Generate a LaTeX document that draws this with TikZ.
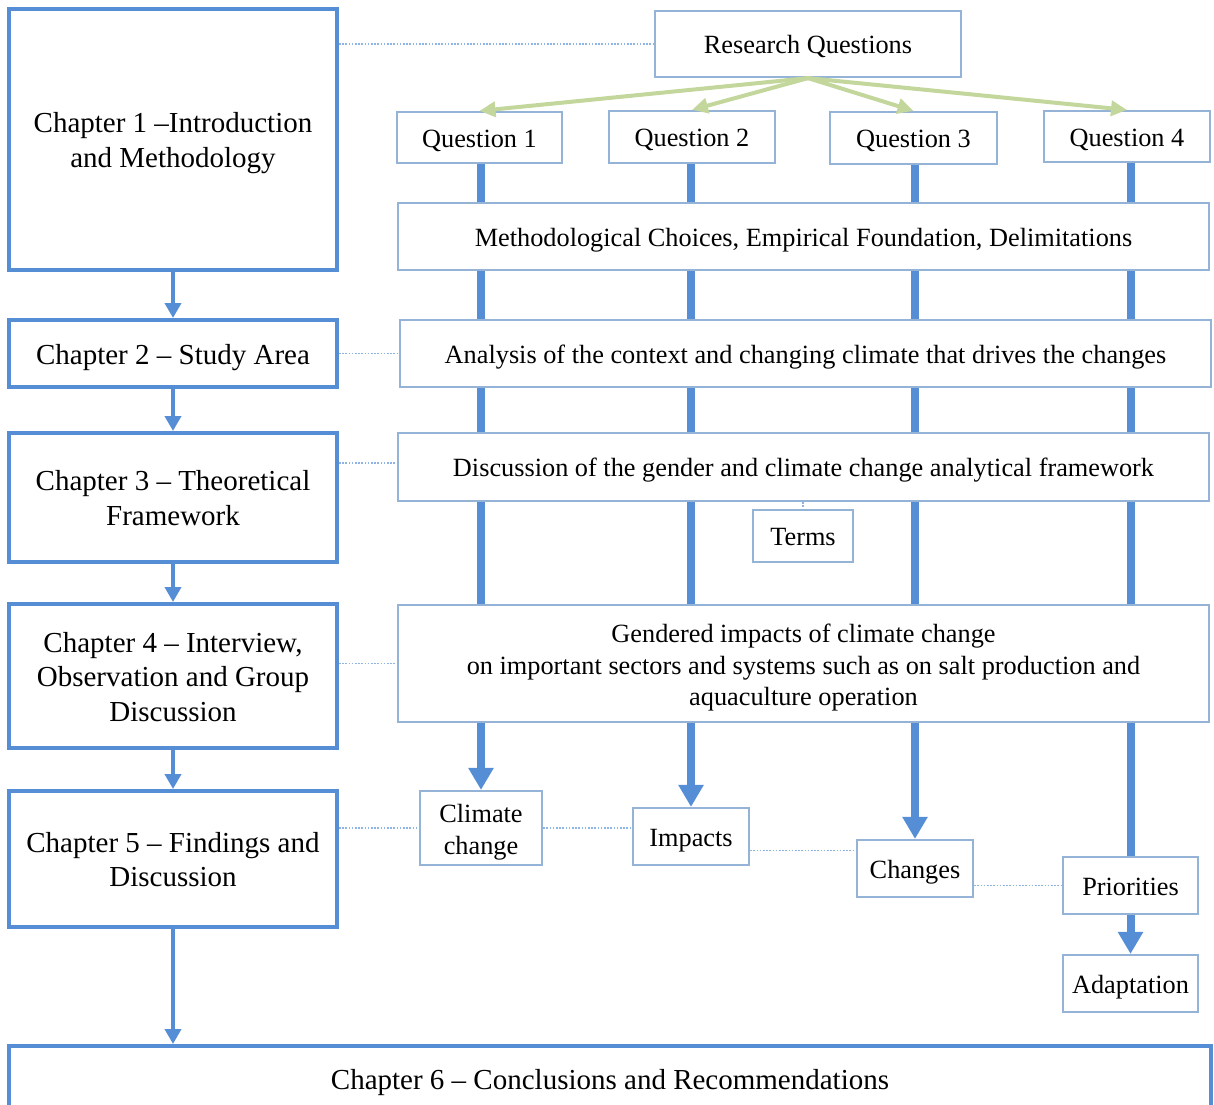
\documentclass[tikz,border=0pt]{standalone}
\usepackage{fontspec}
\setmainfont{Liberation Serif}
\usetikzlibrary{arrows.meta,backgrounds,calc}
\definecolor{chapblue}{RGB}{85,142,213}
\definecolor{boxblue}{RGB}{149,179,215}
\definecolor{dotblue}{RGB}{142,180,227}
\definecolor{leafgreen}{RGB}{195,214,155}
% first-line struts for the multi-line labels
\newcommand\chapstrut{\rule{0pt}{29.2pt}}
\newcommand\itemstrut{\rule{0pt}{28pt}}

\begin{document}
\begin{tikzpicture}[x=1pt,y=-1pt,
  sz/.style 2 args={minimum width=#1pt,minimum height=#2pt},
  % fixed text height and depth keep the labels placed alike in every box
  struts/.style 2 args={execute at begin node={\rule{0pt}{#1pt}},
    execute at end node={\rule[-#2pt]{0pt}{#2pt}}},
  chap/.style={draw=chapblue,line width=4pt,fill=white,align=center,inner sep=0pt,
    font=\fontsize{29}{34.5}\selectfont,struts={29.2}{8}},
  item/.style={draw=boxblue,line width=2.2pt,fill=white,align=center,inner sep=0pt,
    font=\fontsize{26.3}{31.5}\selectfont,struts={26.8}{7}},
  chaparrow/.style={draw=chapblue,line width=4pt,-{Triangle[width=16pt,length=15pt]}},
  qline/.style={draw=chapblue,line width=8pt},
  qarrow/.style={qline,-{Triangle[width=24pt,length=22pt]}},
  rqarrow/.style={draw=leafgreen,line width=4pt,-{Triangle[width=15pt,length=16pt]}},
  link/.style={draw=dotblue,line width=1.3pt,dash pattern=on 1.6pt off 1.6pt},
]
\useasboundingbox (0,0) rectangle (1214,1104);

% chapter column
\node[chap,sz={328}{261}] (ch1) at (173,139.5) {\chapstrut Chapter 1 –Introduction\\and Methodology};
\node[chap,sz={328}{67}]  (ch2) at (173,353.5) {Chapter 2 – Study Area};
\node[chap,sz={328}{129}] (ch3) at (173,497.5) {\chapstrut Chapter 3 – Theoretical\\Framework};
\node[chap,sz={328}{144}] (ch4) at (173,676)   {\chapstrut Chapter 4 – Interview,\\Observation and Group\\Discussion};
\node[chap,sz={328}{136}] (ch5) at (173,859)   {\chapstrut Chapter 5 – Findings and\\Discussion};
\node[chap,sz={1202}{66}] (ch6) at (610,1079)  {Chapter 6 – Conclusions and Recommendations};

% research questions
\node[item,sz={306}{66}] (rq) at (808,44) {Research Questions};
\node[item,sz={165}{51}] (q1) at (479.5,137.5) {Question 1};
\node[item,sz={166}{52}] (q2) at (692,137)     {Question 2};
\node[item,sz={167}{52}] (q3) at (913.5,138)   {Question 3};
\node[item,sz={166}{51}] (q4) at (1127,136.5)  {Question 4};

% wide stages
\node[item,sz={811}{67}]  (meth) at (803.5,236.5) {Methodological Choices, Empirical Foundation, Delimitations};
\node[item,sz={811}{67}]  (anal) at (805.5,353.5) {Analysis of the context and changing climate that drives the changes};
\node[item,sz={811}{68}]  (disc) at (803.5,467)   {Discussion of the gender and climate change analytical framework};
\node[item,sz={100}{52}]  (terms) at (803,536)    {Terms};
\node[item,sz={811}{117}] (gend) at (803.5,663.5) {\itemstrut Gendered impacts of climate change\\on important sectors and systems such as on salt production and\\aquaculture operation};

% outcomes
\node[item,sz={122}{74}] (cc)  at (481,828)    {\itemstrut Climate\\change};
\node[item,sz={116}{57}] (imp) at (691,836.5)  {Impacts};
\node[item,sz={116}{57}] (chg) at (915,868.5)  {Changes};
\node[item,sz={135}{57}] (pri) at (1130.5,885.5) {Priorities};
\node[item,sz={135}{57}] (ada) at (1130.5,983.5) {Adaptation};

% question threads run behind the stage boxes
\begin{pgfonlayer}{background}
  \draw[qarrow] (cc.north |- q1.south) -- (cc.north);
  \draw[qarrow] (imp.north |- q2.south) -- (imp.north);
  \draw[qarrow] (chg.north |- q3.south) -- (chg.north);
  \draw[qline]  (pri.north |- q4.south) -- (pri.north);
\end{pgfonlayer}
\draw[qarrow] (pri.south) -- (ada.north);

% research questions fan out
\draw[rqarrow] (rq.south) -- (q1.north);
\draw[rqarrow] (rq.south) -- (q2.north);
\draw[rqarrow] (rq.south) -- (q3.north);
\draw[rqarrow] (rq.south) -- (q4.north);

% chapter sequence
\draw[chaparrow] (ch1.south) -- (ch2.north);
\draw[chaparrow] (ch2.south) -- (ch3.north);
\draw[chaparrow] (ch3.south) -- (ch4.north);
\draw[chaparrow] (ch4.south) -- (ch5.north);
\draw[chaparrow] (ch5.south) -- (ch5.south |- ch6.north);

% dotted links
\draw[link] (ch1.east |- rq.west) -- (rq.west);
\draw[link] (ch2.east) -- (anal.west);
\draw[link] ([yshift=4pt]ch3.east |- disc.west) -- ([yshift=4pt]disc.west);
\draw[link] (ch4.east |- gend.west) -- (gend.west);
\draw[link] (ch5.east |- cc.west) -- (cc.west);
\draw[link] (cc.east) -- (cc.east -| imp.west);
\draw[link] ([yshift=-14pt]imp.east) -- ([yshift=-14pt]imp.east -| chg.west);
\draw[link] (chg.east |- pri.west) -- (pri.west);
\draw[link] (disc.south -| terms.north) -- (terms.north);
\end{tikzpicture}
\end{document}
